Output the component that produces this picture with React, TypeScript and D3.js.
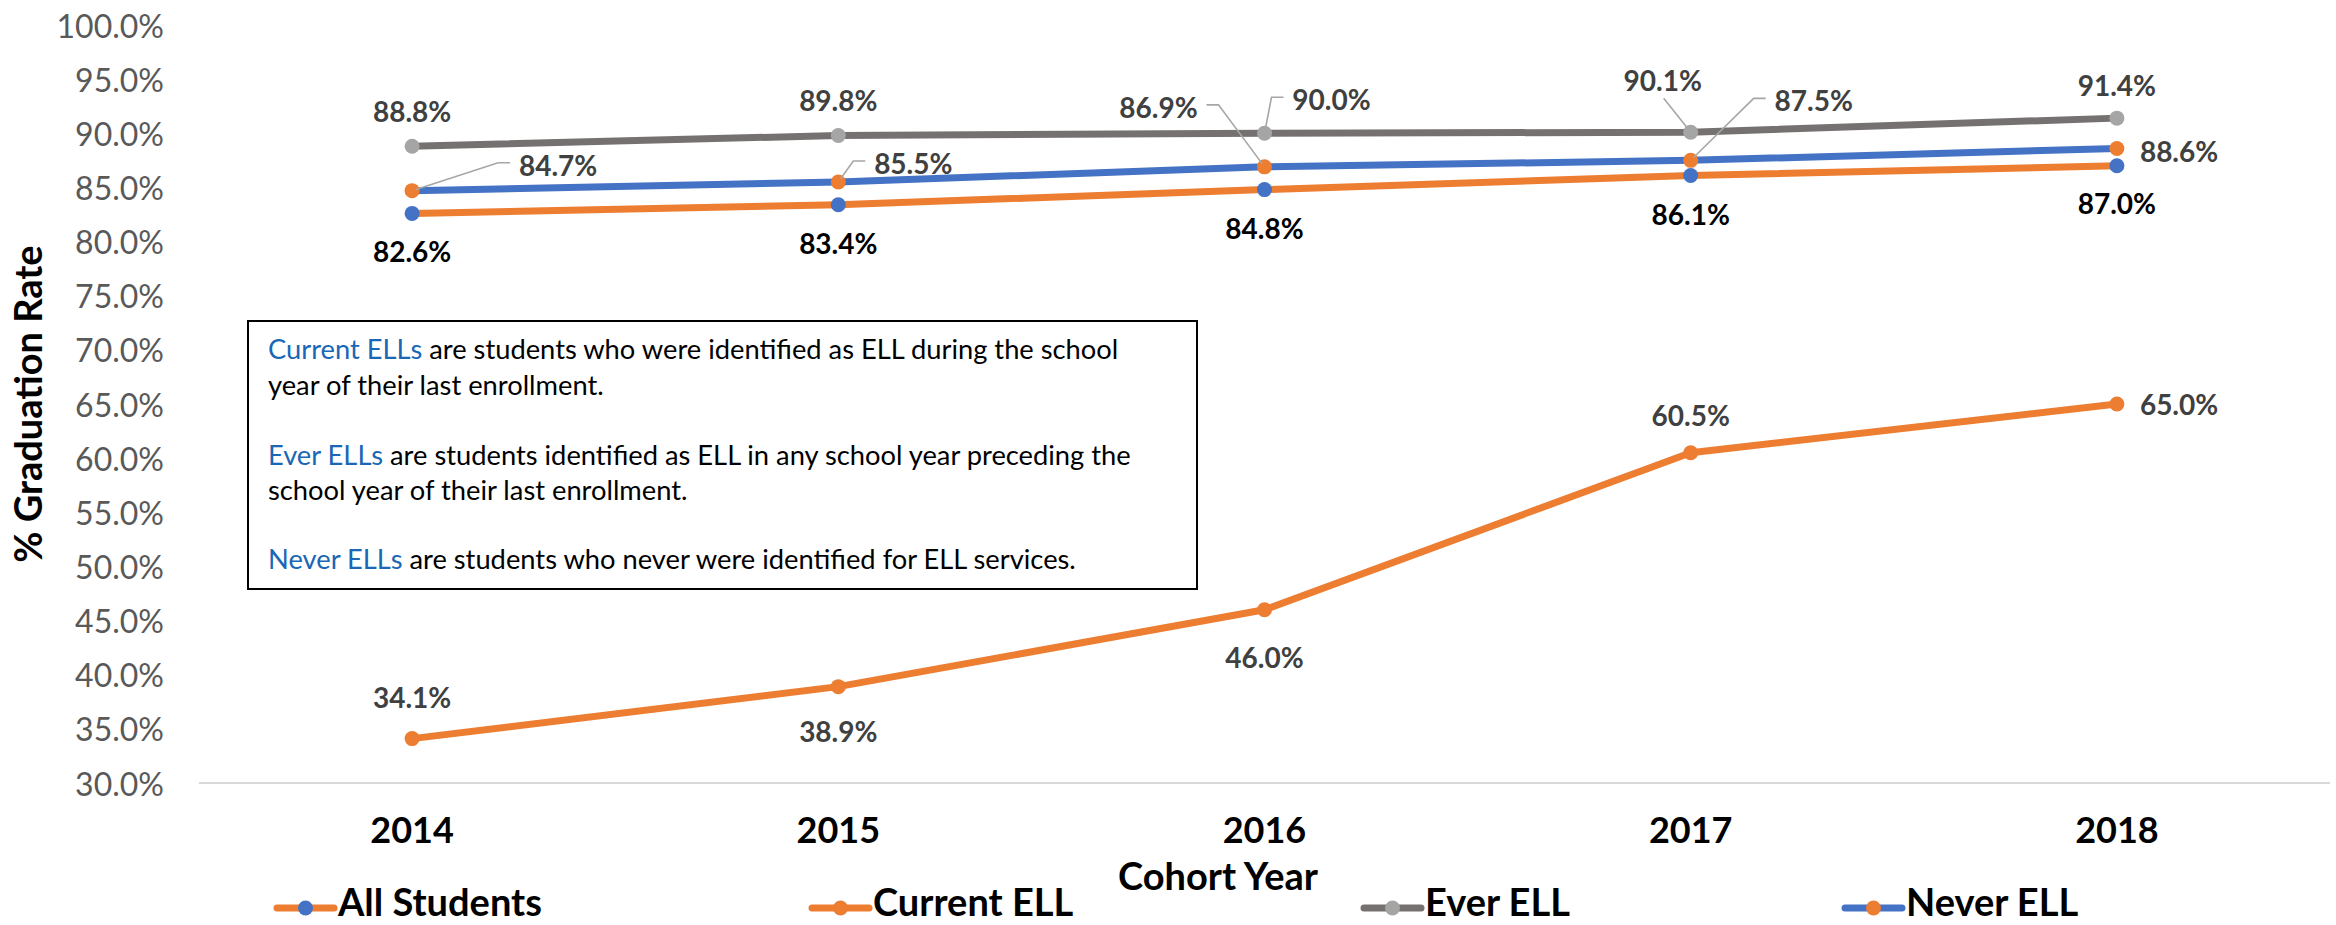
import React from 'react';
import * as d3 from 'd3';

// ---------- data ----------
const years = ['2014', '2015', '2016', '2017', '2018'];
const allStudents = [82.6, 83.4, 84.8, 86.1, 87.0];
const currentELL = [34.1, 38.9, 46.0, 60.5, 65.0];
const everELL = [88.8, 89.8, 90.0, 90.1, 91.4];
const neverELL = [84.7, 85.5, 86.9, 87.5, 88.6];
const yTicks = [30, 35, 40, 45, 50, 55, 60, 65, 70, 75, 80, 85, 90, 95, 100];
const seriesNames = ['All Students', 'Current ELL', 'Ever ELL', 'Never ELL'];
const yTitle = '% Graduation Rate';
const xTitle = 'Cohort Year';
const noteParagraphs = [
  [
    { t: 'Current ELLs', hl: true },
    { t: ' are students who were identified as ELL during the school', hl: false },
  ],
  [{ t: 'year of their last enrollment.', hl: false }],
  null,
  [
    { t: 'Ever ELLs', hl: true },
    { t: ' are students identified as ELL in any school year preceding the', hl: false },
  ],
  [{ t: 'school year of their last enrollment.', hl: false }],
  null,
  [
    { t: 'Never ELLs', hl: true },
    { t: ' are students who never were identified for ELL services.', hl: false },
  ],
];

// ---------- styles / layout ----------
const W = 2336;
const H = 925;
const plot = { left: 199, right: 2330, top: 25, bottom: 783 };
const ORANGE = '#ED7D31';
const BLUE = '#4472C4';
const GRAY_LINE = '#767171';
const GRAY_MARK = '#A5A5A5';
const LABEL_DARK = '#404040';
const FONT = 'Lato, "Open Sans", sans-serif';

type LabelPos = { dx: number; dy: number; anchor?: string; leader?: 'left' | 'right' | 'bottom' };

const series = [
  {
    name: seriesNames[0], values: allStudents, line: ORANGE, mark: BLUE, labelColor: '#000',
    labels: [
      { dx: 0, dy: 38 }, { dx: 0, dy: 38 }, { dx: 0, dy: 38 }, { dx: 0, dy: 38 }, { dx: 0, dy: 37 },
    ] as LabelPos[],
  },
  {
    name: seriesNames[1], values: currentELL, line: ORANGE, mark: ORANGE, labelColor: LABEL_DARK,
    labels: [
      { dx: 0, dy: -42 }, { dx: 0, dy: 44 }, { dx: 0, dy: 47 }, { dx: 0, dy: -38 }, { dx: 23, dy: 0, anchor: 'start' },
    ] as LabelPos[],
  },
  {
    name: seriesNames[2], values: everELL, line: GRAY_LINE, mark: GRAY_MARK, labelColor: LABEL_DARK,
    labels: [
      { dx: 0, dy: -35 }, { dx: 0, dy: -35 }, { dx: 67, dy: -34, leader: 'left' }, { dx: -28, dy: -52, leader: 'bottom' }, { dx: 0, dy: -33 },
    ] as LabelPos[],
  },
  {
    name: seriesNames[3], values: neverELL, line: BLUE, mark: ORANGE, labelColor: LABEL_DARK,
    labels: [
      { dx: 146, dy: -26, leader: 'left' }, { dx: 75, dy: -19, leader: 'left' }, { dx: -106, dy: -60, leader: 'right' },
      { dx: 123, dy: -60, leader: 'left' }, { dx: 23, dy: 3, anchor: 'start' },
    ] as LabelPos[],
  },
];

const drawOrder = [1, 3, 0, 2];
const legendX = [277, 812, 1364, 1845];

export default function App() {
  const x = d3.scaleBand<string>().domain(years).range([plot.left, plot.right]).padding(0);
  const cx = (yr: string) => (x(yr) as number) + x.bandwidth() / 2;
  const y = d3.scaleLinear().domain([30, 100]).range([plot.bottom, plot.top]);
  const lineGen = d3
    .line<number>()
    .x((_, i) => cx(years[i]))
    .y((d) => y(d));
  const fmt = (v: number) => d3.format('.1f')(v) + '%';

  const labelHalf = 38;

  return (
    <svg
      width={W}
      height={H}
      style={{ position: 'fixed', left: 0, top: 0, background: '#fff' }}
      fontFamily={FONT}
    >
      <rect x={0} y={0} width={W} height={H} fill="#fff" />

      {/* y tick labels */}
      {yTicks.map((t) => (
        <text
          key={t}
          x={164}
          y={y(t)}
          textAnchor="end"
          dominantBaseline="central"
          fontSize={32}
          fill="#595959"
        >
          {fmt(t)}
        </text>
      ))}

      {/* axis line */}
      <line x1={plot.left} x2={plot.right} y1={y(30)} y2={y(30)} stroke="#D9D9D9" strokeWidth={2} />

      {/* x tick labels */}
      {years.map((yr) => (
        <text key={yr} x={cx(yr)} y={843} textAnchor="middle" fontSize={36} fontWeight={700} fill="#000">
          {yr}
        </text>
      ))}

      {/* axis titles */}
      <text x={1218} y={890} textAnchor="middle" fontSize={38} fontWeight={700} fill="#000">
        {xTitle}
      </text>
      <text
        transform={`translate(42, 404) rotate(-90)`}
        textAnchor="middle"
        fontSize={38}
        fontWeight={700}
        fill="#000"
      >
        {yTitle}
      </text>

      {/* note box */}
      <rect x={248} y={321} width={949} height={268} fill="#fff" stroke="#000" strokeWidth={2} />
      <text fontSize={27.3} fill="#000">
        {(() => {
          const baselines = [359, 395, 430, 465, 500, 534, 569];
          return noteParagraphs.map((p, i) =>
            p ? (
              <tspan key={i} x={268} y={baselines[i]}>
                {p.map((s, j) => (
                  <tspan key={j} fill={s.hl ? '#1A67B5' : '#000'}>
                    {s.t}
                  </tspan>
                ))}
              </tspan>
            ) : null
          );
        })()}
      </text>

      {/* lines & markers */}
      {drawOrder.map((si) => {
        const s = series[si];
        return (
          <g key={s.name}>
            <path d={lineGen(s.values) || ''} fill="none" stroke={s.line} strokeWidth={7} strokeLinejoin="round" strokeLinecap="round" />
            {s.values.map((v, i) => (
              <circle key={i} cx={cx(years[i])} cy={y(v)} r={7.5} fill={s.mark} />
            ))}
          </g>
        );
      })}

      {/* leader lines */}
      {series.map((s) =>
        s.values.map((v, i) => {
          const lp = s.labels[i];
          if (!lp.leader) return null;
          const px = cx(years[i]);
          const py = y(v);
          const lx = px + lp.dx;
          const ly = py + lp.dy;
          let pts: [number, number][];
          if (lp.leader === 'bottom') {
            const sx = lx + 1;
            const sy = ly + 18;
            const ang = Math.atan2(sy - py, sx - px);
            pts = [
              [sx, sy],
              [px + Math.cos(ang) * 6, py + Math.sin(ang) * 6],
            ];
          } else {
            const dir = lp.leader === 'left' ? -1 : 1;
            const sx = lx + dir * (labelHalf + 10);
            const sy = ly - 2;
            const ex = sx + dir * 12;
            const ang = Math.atan2(sy - py, ex - px);
            pts = [
              [sx, sy],
              [ex, sy],
              [px + Math.cos(ang) * 4, py + Math.sin(ang) * 4],
            ];
          }
          return (
            <polyline
              key={s.name + i}
              points={pts.map((p) => p.join(',')).join(' ')}
              fill="none"
              stroke="#A6A6A6"
              strokeWidth={1.6}
            />
          );
        })
      )}

      {/* data labels */}
      {series.map((s) =>
        s.values.map((v, i) => {
          const lp = s.labels[i];
          return (
            <text
              key={s.name + 'l' + i}
              x={cx(years[i]) + lp.dx}
              y={y(v) + lp.dy}
              textAnchor={lp.anchor || 'middle'}
              dominantBaseline="central"
              fontSize={28}
              fontWeight={700}
              fill={s.labelColor}
            >
              {fmt(v)}
            </text>
          );
        })
      )}

      {/* legend */}
      {series.map((s, i) => {
        const lx = legendX[i];
        const ly = 908;
        return (
          <g key={'lg' + s.name}>
            <line x1={lx} x2={lx + 57} y1={ly} y2={ly} stroke={s.line} strokeWidth={7} strokeLinecap="round" />
            <circle cx={lx + 28.5} cy={ly} r={7.5} fill={s.mark} />
            <text x={lx + 61} y={916} fontSize={38} fontWeight={700} fill="#000">
              {s.name}
            </text>
          </g>
        );
      })}
    </svg>
  );
}
